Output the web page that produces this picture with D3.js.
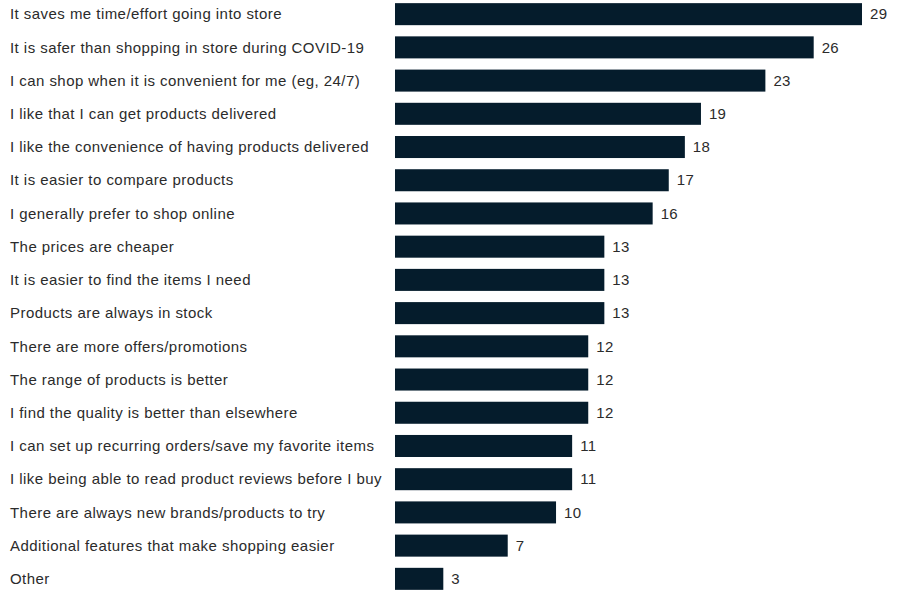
<!DOCTYPE html>
<html><head><meta charset="utf-8">
<script src="https://cdn.jsdelivr.net/npm/d3@7"></script>
<style>body{margin:0;background:#fff}svg{display:block}</style>
</head><body>
<script>
const categories = [
"It saves me time/effort going into store",
"It is safer than shopping in store during COVID-19",
"I can shop when it is convenient for me (eg, 24/7)",
"I like that I can get products delivered",
"I like the convenience of having products delivered",
"It is easier to compare products",
"I generally prefer to shop online",
"The prices are cheaper",
"It is easier to find the items I need",
"Products are always in stock",
"There are more offers/promotions",
"The range of products is better",
"I find the quality is better than elsewhere",
"I can set up recurring orders/save my favorite items",
"I like being able to read product reviews before I buy",
"There are always new brands/products to try",
"Additional features that make shopping easier",
"Other"
];
const values = [29,26,23,19,18,17,16,13,13,13,12,12,12,11,11,10,7,3];

const W = 900, H = 591;
const svg = d3.select("body").append("svg").attr("width", W).attr("height", H);
const x = d3.scaleLinear().domain([0, 29]).range([395, 862]);
const y = d3.scaleBand().domain(categories).range([-2.5, 595.5]).paddingInner(0.337).paddingOuter(0.17);
const font = "'Liberation Sans', Arial, sans-serif";

svg.selectAll("text.cat").data(categories).join("text")
  .attr("class","cat")
  .attr("x", 10).attr("y", d => y(d) + y.bandwidth()/2)
  .attr("dy","0.35em")
  .attr("font-family", font).attr("font-size", 15).attr("letter-spacing", 0.45).attr("fill","#2b2b2b")
  .text(d => d);

svg.selectAll("rect.bar").data(values).join("rect")
  .attr("class","bar")
  .attr("x", x(0)).attr("y", (d,i) => y(categories[i]))
  .attr("width", d => x(d) - x(0)).attr("height", y.bandwidth())
  .attr("fill","#051c2c");

svg.selectAll("text.val").data(values).join("text")
  .attr("class","val")
  .attr("x", d => x(d) + 8).attr("y", (d,i) => y(categories[i]) + y.bandwidth()/2)
  .attr("dy","0.35em")
  .attr("font-family", font).attr("font-size", 15).attr("letter-spacing", 0.3).attr("fill","#2b2b2b")
  .text(d => d);
</script>
</body></html>
